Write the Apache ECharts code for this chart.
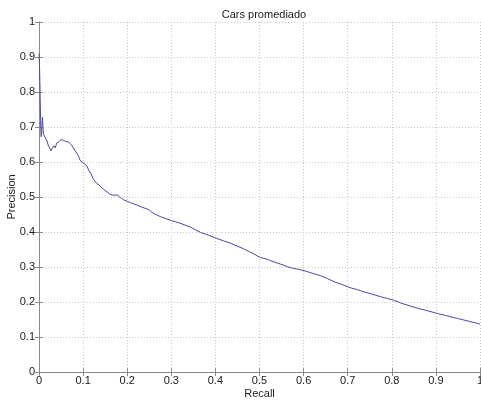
<!DOCTYPE html>
<html>
<head>
<meta charset="utf-8">
<script src="https://cdn.jsdelivr.net/npm/echarts@6/dist/echarts.min.js"></script>
<style>
  html, body { margin: 0; padding: 0; background: #fff; }
  #chart { width: 481px; height: 400px; }
</style>
</head>
<body>
<div id="chart"></div>
<script>
// Averaged precision-recall curve for the "Cars" class
const chartTitle = 'Cars promediado';
const xName = 'Recall';
const yName = 'Precision';

const recall = [
  0.000, 0.001, 0.002, 0.003, 0.004, 0.005, 0.006, 0.007, 0.008, 0.009,
  0.010, 0.012, 0.015, 0.018, 0.021, 0.024, 0.027, 0.030, 0.034, 0.037,
  0.040, 0.045, 0.050, 0.055, 0.060, 0.063, 0.067, 0.070, 0.074, 0.078,
  0.082, 0.086, 0.089, 0.093, 0.097, 0.100, 0.104, 0.108, 0.113, 0.118,
  0.123, 0.130, 0.139, 0.146, 0.154, 0.161, 0.168, 0.177, 0.185, 0.192,
  0.200, 0.207, 0.215, 0.224, 0.233, 0.240, 0.245, 0.251, 0.256, 0.265,
  0.275, 0.288, 0.301, 0.310, 0.320, 0.331, 0.343, 0.355, 0.366, 0.384,
  0.402, 0.418, 0.434, 0.449, 0.464, 0.483, 0.502, 0.518, 0.525, 0.548,
  0.570, 0.586, 0.603, 0.620, 0.639, 0.654, 0.669, 0.687, 0.705, 0.720,
  0.737, 0.756, 0.775, 0.790, 0.804, 0.823, 0.843, 0.862, 0.881, 0.904,
  0.927, 0.949, 0.975, 1.000
];

const precision = [
  0.910, 0.880, 0.830, 0.760, 0.700, 0.672, 0.690, 0.715, 0.728, 0.700,
  0.680, 0.676, 0.668, 0.660, 0.648, 0.640, 0.632, 0.640, 0.646, 0.640,
  0.654, 0.658, 0.664, 0.662, 0.659, 0.655, 0.657, 0.654, 0.648, 0.644,
  0.632, 0.624, 0.618, 0.605, 0.600, 0.597, 0.596, 0.590, 0.576, 0.566,
  0.552, 0.540, 0.531, 0.522, 0.515, 0.508, 0.505, 0.506, 0.498, 0.492,
  0.488, 0.484, 0.480, 0.476, 0.471, 0.468, 0.466, 0.462, 0.456, 0.450,
  0.444, 0.438, 0.432, 0.429, 0.425, 0.420, 0.414, 0.406, 0.399, 0.391,
  0.382, 0.375, 0.368, 0.360, 0.352, 0.340, 0.327, 0.322, 0.318, 0.308,
  0.298, 0.294, 0.289, 0.282, 0.275, 0.267, 0.258, 0.250, 0.241, 0.236,
  0.229, 0.222, 0.215, 0.210, 0.205, 0.196, 0.188, 0.181, 0.175, 0.167,
  0.160, 0.153, 0.145, 0.137
];

const xTicks = [0, 0.1, 0.2, 0.3, 0.4, 0.5, 0.6, 0.7, 0.8, 0.9, 1];
const yTicks = [0, 0.1, 0.2, 0.3, 0.4, 0.5, 0.6, 0.7, 0.8, 0.9, 1];

const fontFamily = '"Liberation Sans", Arial, sans-serif';
const boxColor = '#8a8a8a';
const gridColor = '#c8c8c8';
const labelColor = '#1a1a1a';

const fmt = v => (v === 0 || v === 1) ? String(v) : String(Math.round(v * 10) / 10);

function axisBase(extra) {
  return Object.assign({
    type: 'value',
    min: 0,
    max: 1,
    interval: 0.1,
    axisLine: { show: true, lineStyle: { color: boxColor, width: 1 } },
    axisTick: { show: true, inside: true, length: 4, lineStyle: { color: boxColor } },
    splitLine: { show: false },
    axisLabel: { show: false }
  }, extra);
}

const chart = echarts.init(document.getElementById('chart'), null, { renderer: 'canvas' });

chart.setOption({
  animation: false,
  backgroundColor: '#ffffff',
  title: {
    text: chartTitle,
    left: 259,
    textAlign: 'center',
    top: 4,
    textStyle: { fontFamily, fontSize: 11, fontWeight: 'normal', color: labelColor }
  },
  grid: {
    left: 39, right: 1, top: 22, bottom: 28,
    containLabel: false,
    outerBoundsMode: 'none'
  },
  xAxis: [
    axisBase({
      position: 'bottom',
      name: xName,
      nameLocation: 'middle',
      nameGap: 16,
      nameMoveOverlap: false,
      nameTextStyle: { fontFamily, fontSize: 11, color: labelColor, verticalAlign: 'top' },
      axisLabel: {
        show: true, margin: 3, fontFamily, fontSize: 11, color: labelColor,
        formatter: v => xTicks.some(t => Math.abs(t - v) < 1e-6) ? fmt(v) : ''
      },
      splitLine: { show: true, lineStyle: { color: gridColor, type: [1, 2], width: 1 } }
    }),
    axisBase({ position: 'top' })
  ],
  yAxis: [
    axisBase({
      position: 'left',
      name: yName,
      nameLocation: 'middle',
      nameGap: 22,
      nameRotate: 90,
      nameMoveOverlap: false,
      nameTextStyle: { fontFamily, fontSize: 11, color: labelColor, verticalAlign: 'bottom' },
      axisLabel: {
        show: true, margin: 4, fontFamily, fontSize: 11, color: labelColor,
        formatter: v => yTicks.some(t => Math.abs(t - v) < 1e-6) ? fmt(v) : ''
      },
      splitLine: { show: true, lineStyle: { color: gridColor, type: [1, 2], width: 1 } }
    }),
    axisBase({ position: 'right' })
  ],
  series: [{
    type: 'line',
    data: recall.map((r, i) => [r, precision[i]]),
    showSymbol: false,
    symbol: 'none',
    lineStyle: { color: '#4a4a9c', width: 1 },
    z: 5
  }]
});
</script>
</body>
</html>
